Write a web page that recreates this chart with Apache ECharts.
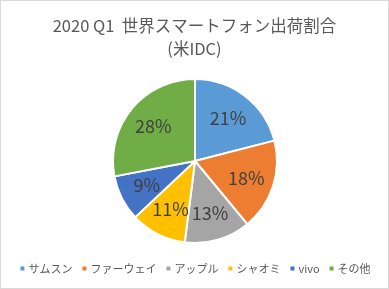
<!DOCTYPE html>
<html>
<head>
<meta charset="utf-8">
<script src="https://cdn.jsdelivr.net/npm/echarts@6/dist/echarts.min.js"></script>
<style>
  html, body { margin: 0; padding: 0; background: #fff; }
  #chart { width: 389px; height: 289px; box-sizing: border-box; border: 1px solid #d9d9d9; }
</style>
</head>
<body>
<div id="chart"></div>
<script>
const brands = ["サムスン", "ファーウェイ", "アップル", "シャオミ", "vivo", "その他"];
const shares = [21, 18, 13, 11, 9, 28];
const colors = ["#5b9bd5", "#ed7d31", "#a5a5a5", "#ffc000", "#4472c4", "#70ad47"];

const font = "'Noto Sans CJK JP', 'Noto Sans', sans-serif";

const pieData = brands.map((name, i) => ({
  name: name,
  value: shares[i],
  itemStyle: { color: colors[i] }
}));

const chart = echarts.init(document.getElementById("chart"));
chart.setOption({
  animation: false,
  title: {
    text: "2020 Q1  世界スマートフォン出荷割合\n(米IDC)",
    left: "center",
    top: 8,
    textStyle: {
      color: "#595959",
      fontFamily: font,
      fontSize: 16.5,
      fontWeight: "normal",
      lineHeight: 23
    }
  },
  legend: {
    data: brands,
    top: 262,
    left: "center",
    width: 385,
    padding: 0,
    icon: "rect",
    itemWidth: 6,
    itemHeight: 6,
    itemGap: 8,
    textStyle: { color: "#595959", fontFamily: font, fontSize: 11, padding: [0, 0, 0, -2] }
  },
  series: [
    {
      type: "pie",
      center: [194, 160],
      radius: [0, 82],
      startAngle: 90,
      clockwise: true,
      silent: true,
      itemStyle: { borderColor: "#fff", borderWidth: 2 },
      label: { show: false },
      labelLine: { show: false },
      data: pieData
    },
    {
      // 透明な外側リングでラベル位置だけ決める
      type: "pie",
      center: [194, 160],
      radius: [0, 102],
      startAngle: 90,
      clockwise: true,
      silent: true,
      legendHoverLink: false,
      itemStyle: { color: "transparent", borderWidth: 0 },
      label: {
        show: true,
        position: "inside",
        formatter: "{c}%",
        color: "#404040",
        fontFamily: font,
        fontSize: 18
      },
      labelLine: { show: false },
      data: brands.map((name, i) => ({ name: name, value: shares[i] }))
    }
  ]
});
</script>
</body>
</html>
